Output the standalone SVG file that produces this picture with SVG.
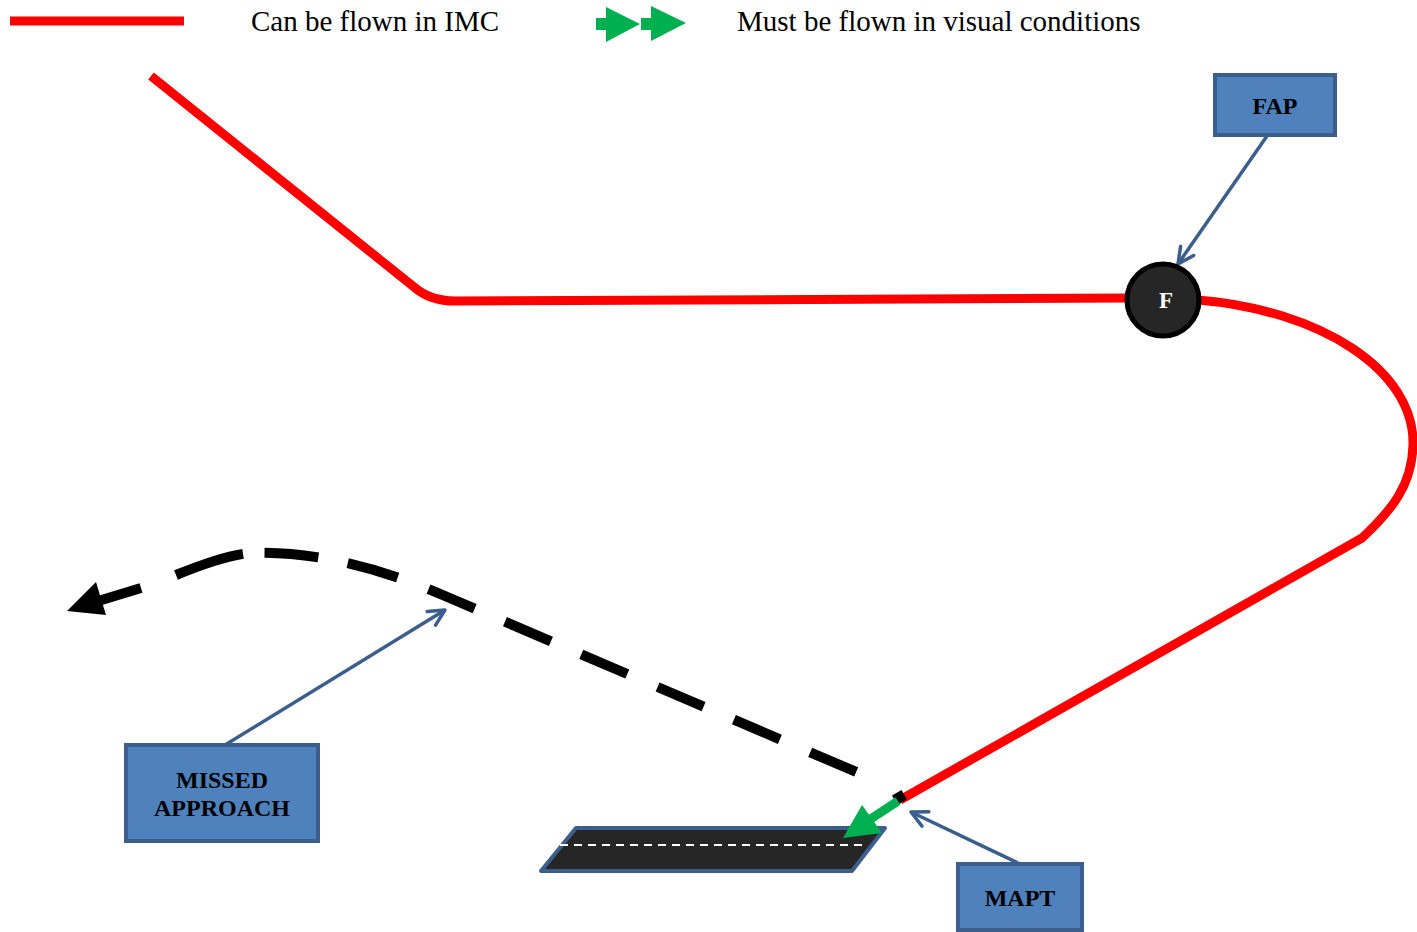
<svg xmlns="http://www.w3.org/2000/svg" width="1417" height="932" viewBox="0 0 1417 932">
<defs>
<style>
.box{fill:#4f81bd;stroke:#3b5e8c;stroke-width:4}
.lbl{font-family:"Liberation Serif","Times New Roman",serif;font-weight:bold;font-size:24px;fill:#000;text-anchor:middle}
.leg{font-family:"Liberation Serif","Times New Roman",serif;font-size:29px;fill:#000}
.red{fill:none;stroke:#ff0000;stroke-width:9}
.ptr{fill:none;stroke:#3b5e8c;stroke-width:3.5;marker-end:url(#open)}
</style>
<marker id="open" viewBox="0 0 20 20" refX="18" refY="10" markerWidth="20" markerHeight="20" markerUnits="userSpaceOnUse" orient="auto">
<polyline points="2,2 18,10 2,18" fill="none" stroke="#3b5e8c" stroke-width="3.5" stroke-linecap="round" stroke-linejoin="round"/>
</marker>
</defs>
<g id="legend">
<line x1="10" y1="21" x2="184" y2="21" stroke="#ff0000" stroke-width="9"/>
<text class="leg" x="251" y="31">Can be flown in IMC</text>
<path d="M596,18 H606 V7 L640,24 L606,42 V30 H596 Z" fill="#00b050"/>
<path d="M641,18 H651 V6 L686,23 L651,41 V30 H641 Z" fill="#00b050"/>
<text class="leg" x="737" y="31">Must be flown in visual conditions</text>
</g>
<g id="runway">
<path d="M576,828 H885 L852,871 H541 Z" fill="#262626" stroke="#3b5e8c" stroke-width="4" stroke-linejoin="round"/>
<line x1="560" y1="845" x2="868" y2="845" stroke="#ffffff" stroke-width="2" stroke-dasharray="8,6"/>
</g>
<g id="connectors">
<path class="red" d="M151,76 L414,287 Q430,301 455,301 L1130,298"/>
<path class="red" d="M1198,300 C1320,310 1415,370 1413,445 C1412,485 1392,510 1362,538 L900,800"/>
<path d="M176,575 Q225,555 250,553 Q340,550 445,596 L882,783" fill="none" stroke="#000" stroke-width="10" stroke-dasharray="70 22 54 30 52 33 50 33 50 33 50 33 50 33 50 33 50 33 50 33 50 33 50 33"/>
<line x1="141" y1="588" x2="95" y2="602" stroke="#000" stroke-width="10"/>
<polygon points="67,611 96,582 106,615" fill="#000"/>
<rect x="894" y="792" width="11" height="11" fill="#000" transform="rotate(-30 899.5 797.5)"/>
<line x1="898" y1="801" x2="866" y2="822" stroke="#00b050" stroke-width="9"/>
<polygon points="843,838 862,805 882,833" fill="#00b050"/>
<line class="ptr" x1="1267" y1="136" x2="1178" y2="264"/>
<line class="ptr" x1="1020" y1="864" x2="911" y2="812"/>
<line class="ptr" x1="225" y1="745" x2="445" y2="610"/>
</g>
<g id="node-F">
<circle cx="1163" cy="300" r="36" fill="#262626" stroke="#000" stroke-width="5"/>
<text class="lbl" x="1166" y="308" style="fill:#fff;font-size:23px">F</text>
</g>
<g id="node-FAP">
<rect class="box" x="1215" y="75" width="120" height="60"/>
<text class="lbl" x="1275" y="114">FAP</text>
</g>
<g id="node-missed">
<rect class="box" x="126" y="745" width="192" height="96"/>
<text class="lbl" x="222" y="788">MISSED</text>
<text class="lbl" x="222" y="816">APPROACH</text>
</g>
<g id="node-MAPT">
<rect class="box" x="958" y="864" width="124" height="66"/>
<text class="lbl" x="1020" y="906">MAPT</text>
</g>
</svg>
